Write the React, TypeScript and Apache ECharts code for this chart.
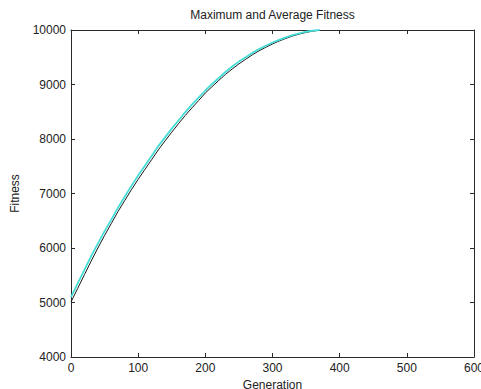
import React, { useEffect, useRef } from "react";
import * as echarts from "echarts";

const generations = [
  0, 10, 20, 30, 40, 50, 60, 70, 80, 90, 100, 110, 120, 130, 140, 150, 160, 170, 180, 190,
  200, 210, 220, 230, 240, 250, 260, 270, 280, 290, 300, 310, 320, 330, 340, 350, 360, 370,
];

const maxFitness = [
  5100, 5350, 5600, 5850, 6080, 6310, 6520, 6740, 6940, 7140, 7330, 7510, 7690, 7870, 8030,
  8190, 8340, 8490, 8630, 8760, 8890, 9010, 9120, 9230, 9330, 9420, 9500, 9580, 9650, 9710,
  9770, 9820, 9865, 9905, 9940, 9968, 9990, 10000,
];

const avgFitness = [
  5010, 5260, 5510, 5760, 6000, 6230, 6450, 6670, 6870, 7070, 7260, 7440, 7620, 7800, 7965,
  8125, 8280, 8430, 8570, 8705, 8845, 8960, 9075, 9185, 9285, 9378, 9462, 9545, 9618, 9683,
  9744, 9798, 9846, 9890, 9926, 9956, 9980, 9995,
];

const xTicks = { min: 0, max: 600, interval: 100 };
const yTicks = { min: 4000, max: 10000, interval: 1000 };

const FONT = "'Liberation Sans', Arial, sans-serif";

export default function App() {
  const ref = useRef<HTMLDivElement>(null);
  useEffect(() => {
    if (!ref.current) return;
    const chart = echarts.init(ref.current, undefined, { renderer: "svg" });
    const axisLine = { show: true, onZero: false, lineStyle: { color: "#2a2a2a", width: 1 } };
    const axisTick = { show: true, inside: true, length: 4, lineStyle: { color: "#2a2a2a" } };
    const label = {
      fontFamily: FONT,
      fontSize: 12,
      color: "#222",
      margin: 5,
      formatter: (v: number) => String(v),
    };
    chart.setOption({
      animation: false,
      backgroundColor: "#ffffff",
      title: {
        text: "Maximum and Average Fitness",
        left: 272.5,
        textAlign: "center",
        top: 9,
        padding: 0,
        textStyle: { fontFamily: FONT, fontSize: 12, fontWeight: "normal", color: "#222" },
      },
      grid: { left: 71, right: 7, top: 30, bottom: 32, outerBoundsMode: "none", containLabel: false },
      xAxis: [
        {
          type: "value",
          ...xTicks,
          name: "Generation",
          nameLocation: "middle",
          nameGap: 17,
          nameTextStyle: { fontFamily: FONT, fontSize: 12, color: "#222" },
          axisLine,
          axisTick,
          splitLine: { show: false },
          axisLabel: label,
        },
        {
          type: "value",
          ...xTicks,
          position: "top",
          axisLine,
          axisTick,
          splitLine: { show: false },
          axisLabel: { show: false },
        },
      ],
      yAxis: [
        {
          type: "value",
          ...yTicks,
          name: "Fitness",
          nameLocation: "middle",
          nameGap: 50,
          nameTextStyle: { fontFamily: FONT, fontSize: 12, color: "#222" },
          axisLine,
          axisTick,
          splitLine: { show: false },
          axisLabel: label,
        },
        {
          type: "value",
          ...yTicks,
          position: "right",
          axisLine,
          axisTick,
          splitLine: { show: false },
          axisLabel: { show: false },
        },
      ],
      series: [
        {
          name: "Average",
          type: "line",
          xAxisIndex: 0,
          yAxisIndex: 0,
          showSymbol: false,
          data: generations.map((g, i) => [g, avgFitness[i]]),
          lineStyle: { color: "#1a1a1a", width: 1 },
        },
        {
          name: "Maximum",
          type: "line",
          xAxisIndex: 0,
          yAxisIndex: 0,
          showSymbol: false,
          data: generations.map((g, i) => [g, maxFitness[i]]),
          lineStyle: { color: "#45ddd7", width: 1.8 },
        },
      ],
    });
    return () => chart.dispose();
  }, []);
  return <div ref={ref} style={{ width: 481, height: 389, position: "absolute", left: 0, top: 0 }} />;
}
